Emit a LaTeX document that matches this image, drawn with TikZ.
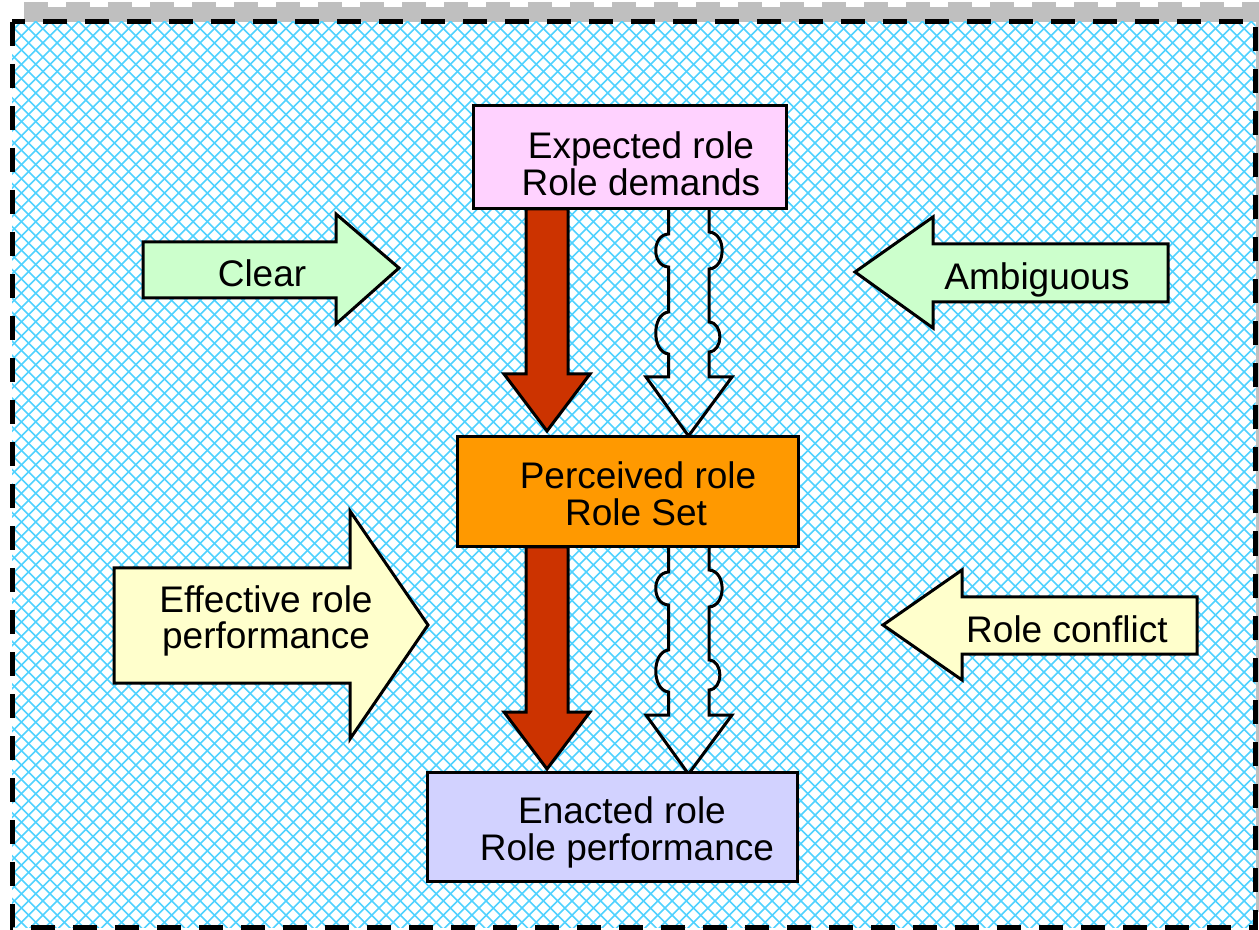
\documentclass[tikz,border=0pt]{standalone}
\usepackage{fontspec}
\setmainfont{Liberation Sans}
\usetikzlibrary{fit,calc}

\definecolor{hatch}{RGB}{80,210,255}
\definecolor{expfill}{RGB}{255,210,255}
\definecolor{perfill}{RGB}{255,153,0}
\definecolor{enafill}{RGB}{210,210,255}
\definecolor{redarrow}{RGB}{204,51,0}
\definecolor{greenarrow}{RGB}{204,255,204}
\definecolor{yellowarrow}{RGB}{255,255,204}
\definecolor{shadowgray}{RGB}{191,191,191}

\tikzset{
  edgeline/.style={draw=black, line width=1.5pt, line join=miter},
  rolebox/.style={edgeline, rectangle, inner sep=0pt, outer sep=0pt},
  txt/.style={font=\fontsize{18.5}{18.5}\selectfont, anchor=base, inner sep=0pt},
  % solid block arrow, origin at the middle of its top edge
  solidarrow/.pic={
    \draw[edgeline, fill=redarrow]
      (-21,0) -- (-21,165) -- (-43,165) -- (0,222) -- (43,165) -- (21,165) -- (21,0) -- cycle;
  },
  % hollow arrow with two bulges on each side, open at the top
  wavyarrow/.pic={
    \draw[edgeline]
      (-20,0) -- (-20,25) .. controls (-37,26) and (-37,57) .. (-20,58)
      -- (-20,103) .. controls (-37,105) and (-37,143) .. (-20,145)
      -- (-20,168) -- (-42.5,168) -- (0,227) -- (43.5,168) -- (20.5,168)
      -- (20.5,143) .. controls (35,142) and (35,114) .. (20.5,113)
      -- (20.5,60) .. controls (38,59) and (38,24) .. (20.5,23)
      -- (20.5,0);
  }
}

\begin{document}
\begin{tikzpicture}[x=0.5pt,y=-0.5pt]
\useasboundingbox (0,0) rectangle (1259,930);

% shadow behind the panel
\fill[shadowgray] (24,7) rectangle (1259,912);
\draw[shadowgray, line width=2.5pt, dash pattern=on 12pt off 9pt] (24,5) -- (1259,5);

% panel with cross-hatching
\fill[white] (12,22) rectangle (1255.5,927);
\begin{scope}
  \clip (12,22) rectangle (1255.5,927);
  \foreach \i in {0,...,155}
    \draw[hatch, line width=0.8pt] ({\i*14.3},0) -- ({\i*14.3-930},930);
  \foreach \i in {-66,...,90}
    \draw[hatch, line width=0.8pt] ({\i*14.3},0) -- ({\i*14.3+930},930);
\end{scope}
\draw[line width=2.5pt, dash pattern=on 12pt off 9pt] (12,22) rectangle (1255.5,927);

% role boxes
\coordinate (exp-nw) at (473,106);
\coordinate (exp-se) at (786,209);
\coordinate (per-nw) at (457,437);
\coordinate (per-se) at (798,547);
\coordinate (ena-nw) at (427,772);
\coordinate (ena-se) at (797,881);

% arrows between the boxes (drawn first, the boxes cover their ends)
\path let \p1 = (exp-se) in coordinate (a1top) at (547,\y1) coordinate (w1top) at (688.5,\y1);
\path let \p1 = (per-se) in coordinate (a2top) at (547,\y1) coordinate (w2top) at (688.5,\y1);
\pic at (a1top) {solidarrow};
\pic at (w1top) {wavyarrow};
\pic at (a2top) {solidarrow};
\pic at (w2top) {wavyarrow};

\node[rolebox, fill=expfill, fit=(exp-nw)(exp-se),
  path picture={\foreach \c in {574,581,...,1002}
    \draw[white, line width=0.8pt] (\c,0) -- ({\c-930},930);}] (exp) {};
\node[rolebox, fill=perfill, fit=(per-nw)(per-se),
  path picture={\foreach \r in {0,...,15} \foreach \k in {0,...,23}
    \fill[white!90!perfill] ({460+\k*15+mod(\r,2)*7.5},{441+\r*7.5}) circle (0.7pt);}] (per) {};
\node[rolebox, fill=enafill, fit=(ena-nw)(ena-se),
  path picture={\foreach \c in {1195,1202,...,1685}
    \draw[white, line width=0.8pt] (\c,0) -- ({\c-930},930);}] (ena) {};

\node[txt] (exp-a) at (641,159) {Expected role};
\node[txt] (exp-b) at (641,196) {Role demands};
\node[txt] (per-a) at (638,489) {Perceived role};
\node[txt] (per-b) at (636,526) {Role Set};
\node[txt] (ena-a) at (622,823) {Enacted role};
\node[txt] (ena-b) at (627,860) {Role performance};

% side arrows
\draw[edgeline, fill=greenarrow]
  (143,242) -- (336,242) -- (336,214) -- (399,268) -- (336,324) -- (336,298) -- (143,298) -- cycle;
\draw[edgeline, fill=greenarrow]
  (1168,244) -- (933,244) -- (933,217) -- (855,272) -- (933,328) -- (933,302) -- (1168,302) -- cycle;
\draw[edgeline, fill=yellowarrow]
  (114,568) -- (350,568) -- (350,511) -- (428,625) -- (350,739) -- (350,683) -- (114,683) -- cycle;
\draw[edgeline, fill=yellowarrow]
  (1197,597) -- (962,597) -- (962,570) -- (883,625) -- (962,680) -- (962,654) -- (1197,654) -- cycle;

\node[txt] (clear) at (262,287) {Clear};
\node[txt] (amb) at (1037,290) {Ambiguous};
\node[txt] (eff-a) at (266,612) {Effective role};
\node[txt] (eff-b) at (266,648) {performance};
\node[txt] (conf) at (1067,642) {Role conflict};
\end{tikzpicture}
\end{document}
